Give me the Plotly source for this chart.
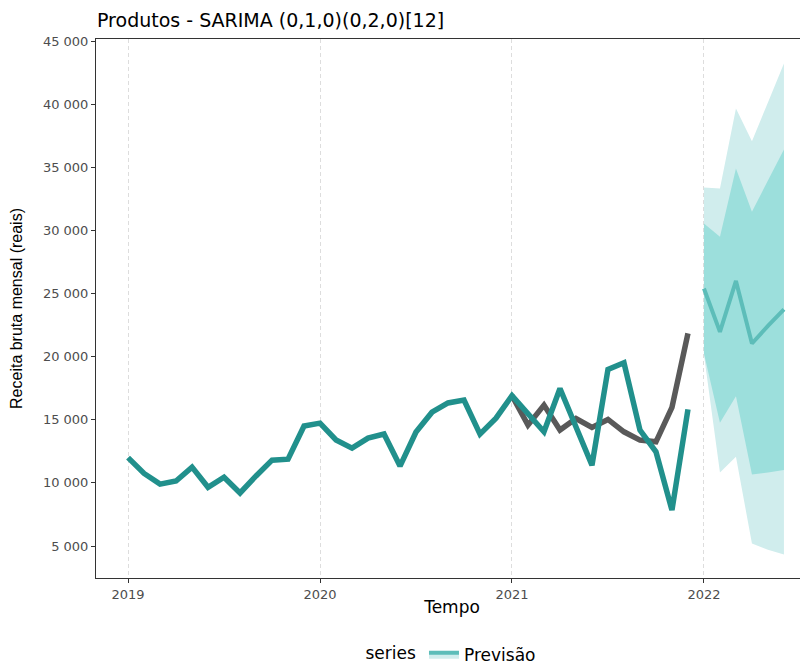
import numpy as np
import pandas as pd
import plotly.graph_objects as go

# ---------------- data ----------------
hist_months = pd.period_range("2019-01", "2021-12", freq="M")
serie_produtos = [
    12000, 10750, 9900, 10150, 11250, 9650, 10450, 9200, 10550, 11800, 11880, 14500,
    14730, 13400, 12750, 13550, 13870, 11330, 14030, 15600, 16330, 16560, 13860, 15130,
    16900, 15450, 14050, 17480, 14440, 11400, 18990, 19510, 14180, 12460, 7840, 15820,
]
test_months = pd.period_range("2021-01", "2021-12", freq="M")
serie_cinza = [16900, 14575, 16160, 14180, 15100, 14390, 15025, 14045, 13390, 13250, 15975, 21840]

fc_months = pd.period_range("2022-01", "2022-06", freq="M")
fc_mean = [25400, 21960, 26000, 21040, 22440, 23740]
fc_hi80 = [30550, 29490, 34900, 31470, 33960, 36410]
fc_lo80 = [20250, 14760, 16870, 10670, 10830, 11010]
fc_hi95 = [33400, 33320, 39660, 37070, 40130, 43220]
fc_lo95 = [20150, 10830, 12060, 5200, 4700, 4330]

year_ticks = [2019, 2020, 2021, 2022]
year_labels = ["2019", "2020", "2021", "2022"]
y_ticks = [5000, 10000, 15000, 20000, 25000, 30000, 35000, 40000, 45000]
y_labels = ["5 000", "10 000", "15 000", "20 000", "25 000", "30 000", "35 000", "40 000", "45 000"]


def dec_year(periods):
    return [p.year + (p.month - 1) / 12 for p in periods]


x_hist = dec_year(hist_months)
x_test = dec_year(test_months)
x_fc = dec_year(fc_months)

TEAL = "#21908C"
GREY = "#595959"
FC_LINE = "#5DBDB9"
BAND80 = "#9CDFDC"
BAND95 = "#D0EDED"

fig = go.Figure()

# 95% band
fig.add_trace(go.Scatter(x=x_fc, y=fc_lo95, mode="lines", line=dict(width=0, color=BAND95),
                         showlegend=False, hoverinfo="skip"))
fig.add_trace(go.Scatter(x=x_fc, y=fc_hi95, mode="lines", line=dict(width=0, color=BAND95),
                         fill="tonexty", fillcolor=BAND95, showlegend=False, hoverinfo="skip"))
# 80% band
fig.add_trace(go.Scatter(x=x_fc, y=fc_lo80, mode="lines", line=dict(width=0, color=BAND80),
                         showlegend=False, hoverinfo="skip"))
fig.add_trace(go.Scatter(x=x_fc, y=fc_hi80, mode="lines", line=dict(width=0, color=BAND80),
                         fill="tonexty", fillcolor=BAND80, showlegend=False, hoverinfo="skip"))

# grey series
fig.add_trace(go.Scatter(x=x_test, y=serie_cinza, mode="lines",
                         line=dict(color=GREY, width=5.5), showlegend=False))
# teal series
fig.add_trace(go.Scatter(x=x_hist, y=serie_produtos, mode="lines",
                         line=dict(color=TEAL, width=5.5), showlegend=False))
# forecast mean
fig.add_trace(go.Scatter(x=x_fc, y=fc_mean, mode="lines",
                         line=dict(color=FC_LINE, width=4), showlegend=False))
# legend entry
fig.add_trace(go.Scatter(x=[None], y=[None], mode="lines", name="Previsão",
                         line=dict(color=FC_LINE, width=4), fill="toself", fillcolor=BAND95,
                         showlegend=True))

tick_font = dict(family="DejaVu Sans", size=13, color="#4D4D4D")

# the page body adds an 8px offset; the figure is sized so the plot panel
# lands at x 96..808, y 39..578 of the window
fig.update_layout(
    width=800, height=659,
    margin=dict(l=88, r=0, t=31, b=89, autoexpand=False),
    plot_bgcolor="white", paper_bgcolor="white",
    font=dict(family="DejaVu Sans", color="black"),
    title=dict(text="Produtos - SARIMA (0,1,0)(0,2,0)[12]", xref="container", yref="container",
               x=89 / 800, xanchor="left", y=1 - 12 / 659, yanchor="middle",
               font=dict(family="DejaVu Sans", size=19, color="black")),
    xaxis=dict(range=[2018.833, 2022.542], tickvals=year_ticks, ticktext=year_labels,
               ticks="outside", ticklen=4, tickcolor="#333333", tickfont=tick_font,
               showline=True, linecolor="#333333", linewidth=1, mirror=True,
               showgrid=True, gridcolor="#DDDDDD", griddash="4px,3px", gridwidth=1, zeroline=False,
               title=dict(text="Tempo", font=dict(family="DejaVu Sans", size=17, color="black"),
                          standoff=0)),
    yaxis=dict(range=[2465, 45160], tickvals=y_ticks, ticktext=y_labels,
               ticks="outside", ticklen=4, tickcolor="#333333", tickfont=tick_font,
               showline=True, linecolor="#333333", linewidth=1,
               showgrid=False, zeroline=False,
               title=dict(text="Receita bruta mensal (reais)",
                          font=dict(family="Liberation Sans", size=16, color="black"),
                          standoff=16)),
    legend=dict(orientation="h", x=0.5, xanchor="center", y=-0.143, yanchor="middle",
                title=dict(text="series", font=dict(family="DejaVu Sans", size=17, color="black")),
                font=dict(family="DejaVu Sans", size=17, color="black"),
                bgcolor="rgba(0,0,0,0)"),
)

fig.write_html("out.html")
